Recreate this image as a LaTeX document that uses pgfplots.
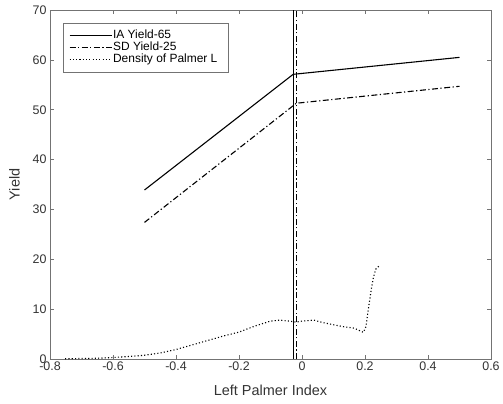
\documentclass[border=0pt]{standalone}
\usepackage{fontspec}
\setmainfont{Liberation Sans}
\usepackage{pgfplots}
\pgfplotsset{compat=1.18}
\definecolor{axgray}{gray}{0.45}
\definecolor{txtgray}{gray}{0.2}
\begin{document}
\begin{tikzpicture}
\begin{axis}[
  scale only axis,
  width=441bp, height=349bp,
  xmin=-0.8, xmax=0.6, ymin=0, ymax=70,
  xtick={-0.8,-0.6,...,0.61},
  ytick={0,10,...,70},
  /pgf/number format/assume math mode=true,
  xticklabel style={/pgf/number format/fixed, /pgf/number format/precision=1},
  tick align=inside,
  major tick length=4bp,
  axis line style={axgray, line width=0.6bp},
  every tick/.style={axgray, line width=0.6bp},
  tick label style={font=\fontsize{12.5}{14}\selectfont, text=txtgray},
  xticklabel style={yshift=1bp},
  label style={font=\fontsize{14.5}{16}\selectfont, text=txtgray},
  xlabel={Left Palmer Index},
  ylabel={Yield},
  xlabel style={yshift=-8bp},
  ylabel style={yshift=6bp},
  legend cell align=left,
  legend style={at={(axis description cs:0.0288,0.9636)}, anchor=north west,
    draw=axgray, line width=0.6bp, font=\fontsize{12}{12}\selectfont, text=black,
    row sep=0bp, inner xsep=6bp, inner ysep=6.3bp,
    nodes={inner xsep=1bp, inner ysep=0.6bp, text height=8.6bp, text depth=2.4bp}},
  legend image code/.code={\draw[#1] (0bp,0bp) -- (42bp,0bp);},
]
\addplot[black, line width=1.1bp] coordinates {(-0.5,33.9) (-0.028,57.1) (0.5,60.5)};
\addlegendentry{IA Yield-65}
\addplot[black, line width=1.1bp, dash pattern=on 6bp off 2.5bp on 1.2bp off 2.5bp] coordinates {(-0.5,27.4) (-0.018,51.3) (0.5,54.7)};
\addlegendentry{SD Yield-25}
\addplot[black, line width=1.1bp, dash pattern=on 1.1bp off 2.2bp] coordinates {
(-0.752,0.05) (-0.7,0.1) (-0.65,0.15) (-0.6,0.3) (-0.55,0.5) (-0.5,0.75)
(-0.45,1.2) (-0.4,1.9) (-0.35,2.8) (-0.3,3.7) (-0.25,4.6) (-0.2,5.4)
(-0.15,6.6) (-0.1,7.6) (-0.07,7.8) (-0.04,7.6) (-0.02,7.4) (0.0,7.6)
(0.038,7.8) (0.06,7.4) (0.09,7.0) (0.13,6.5) (0.165,6.2) (0.195,5.35)
(0.2032,6.5) (0.2074,8.5) (0.2117,10.5) (0.216,12.3) (0.2212,14.5)
(0.2265,16.3) (0.234,18.0) (0.2445,18.65)};
\addlegendentry{Density of Palmer L\hspace*{4bp}}
\addplot[black, line width=1bp, forget plot] coordinates {(-0.028,0) (-0.028,70)};
\addplot[black, line width=0.7bp, forget plot, dash pattern=on 6bp off 2.5bp on 1.2bp off 2.5bp] coordinates {(-0.018,0) (-0.018,70)};
\end{axis}
\pgfresetboundingbox
\path (-50bp,-45bp) rectangle (453bp,359bp);
\end{tikzpicture}
\end{document}
